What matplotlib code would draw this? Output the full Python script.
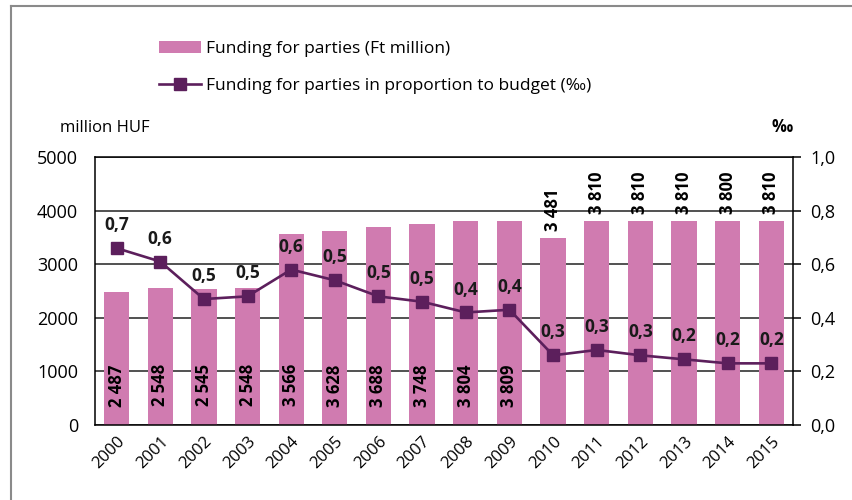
import matplotlib.pyplot as plt
from matplotlib.lines import Line2D

plt.rcParams['font.family'] = ['Open Sans', 'DejaVu Sans']

years = ['2000', '2001', '2002', '2003', '2004', '2005', '2006', '2007',
         '2008', '2009', '2010', '2011', '2012', '2013', '2014', '2015']
funding = [2487, 2548, 2545, 2548, 3566, 3628, 3688, 3748,
           3804, 3809, 3481, 3810, 3810, 3810, 3800, 3810]
ratio = [0.66, 0.61, 0.47, 0.48, 0.58, 0.54, 0.48, 0.46,
         0.42, 0.43, 0.26, 0.28, 0.26, 0.245, 0.23, 0.23]

bar_color = '#d07bb0'
line_color = '#5c1f5c'

fig = plt.figure(figsize=(8.53, 5.0), dpi=100)
ax = fig.add_axes([0.111, 0.15, 0.819, 0.536])
ax2 = ax.twinx()

x = list(range(len(years)))
bars = ax.bar(x, funding, width=0.58, color=bar_color, zorder=2,
              label='Funding for parties (Ft million)')
ax.set_xlim(-0.5, len(years) - 0.5)
ax.set_ylim(0, 5000)
ax.set_yticks([0, 1000, 2000, 3000, 4000, 5000])
ax.set_yticklabels(['0', '1000', '2000', '3000', '4000', '5000'], fontsize=13)
ax.tick_params(axis='y', length=0, pad=12)
ax.set_xticks(x)
ax.set_xticklabels(years, rotation=45, ha='right', rotation_mode='anchor', fontsize=12)
ax.tick_params(axis='x', length=0, pad=6)
ax.set_axisbelow(True)
ax.yaxis.grid(True, color='#222222', linewidth=1.1)
for s in ax.spines.values():
    s.set_color('black')
    s.set_linewidth(1.1)

# bar value labels: inside near the base for the early years, above the bar later
for i, v in enumerate(funding):
    txt = f'{v // 1000} {v % 1000:03d}'
    if i < 10:
        ax.text(i, 740, txt, rotation=90, ha='center', va='center',
                fontsize=12, fontweight='bold', zorder=4)
    else:
        ax.annotate(txt, (i, v), xytext=(0, 5), textcoords='offset points',
                    rotation=90, ha='center', va='bottom',
                    fontsize=12, fontweight='bold', zorder=4)

line, = ax2.plot(x, ratio, color=line_color, linewidth=1.9, marker='s',
                 markersize=8.5, zorder=5,
                 label='Funding for parties in proportion to budget (‰)')
ax2.set_ylim(0, 1.0)
ax2.set_yticks([0, 0.2, 0.4, 0.6, 0.8, 1.0])
ax2.set_yticklabels(['0,0', '0,2', '0,4', '0,6', '0,8', '1,0'], fontsize=13)
ax2.tick_params(axis='y', direction='out', length=6, width=1.1, pad=6)
for s in ax2.spines.values():
    s.set_visible(False)

for i, v in enumerate(ratio):
    ax2.annotate(f'{v:.1f}'.replace('.', ','), (i, v), xytext=(0, 10),
                 textcoords='offset points', ha='center', va='bottom',
                 fontsize=12.5, fontweight='bold', color='#1a1a1a')

fig.text(0.123, 0.745, 'million HUF', ha='center', va='center', fontsize=12)
fig.text(0.917, 0.745, '‰', ha='center', va='center', fontsize=12, fontweight='bold')

handles = [bars, line]
fig.legend(handles, [h.get_label() for h in handles], loc='upper left',
           bbox_to_anchor=(0.168, 0.95), frameon=False, fontsize=12.5,
           handlelength=2.4, labelspacing=1.2, handletextpad=0.3)

# outer frame
fig.add_artist(Line2D([0.013, 0.013], [0, 0.988], color='#8a8a8a', linewidth=1.5))
fig.add_artist(Line2D([0.013, 1.0], [0.988, 0.988], color='#8a8a8a', linewidth=1.5))

fig.savefig('out.png', dpi=100)
